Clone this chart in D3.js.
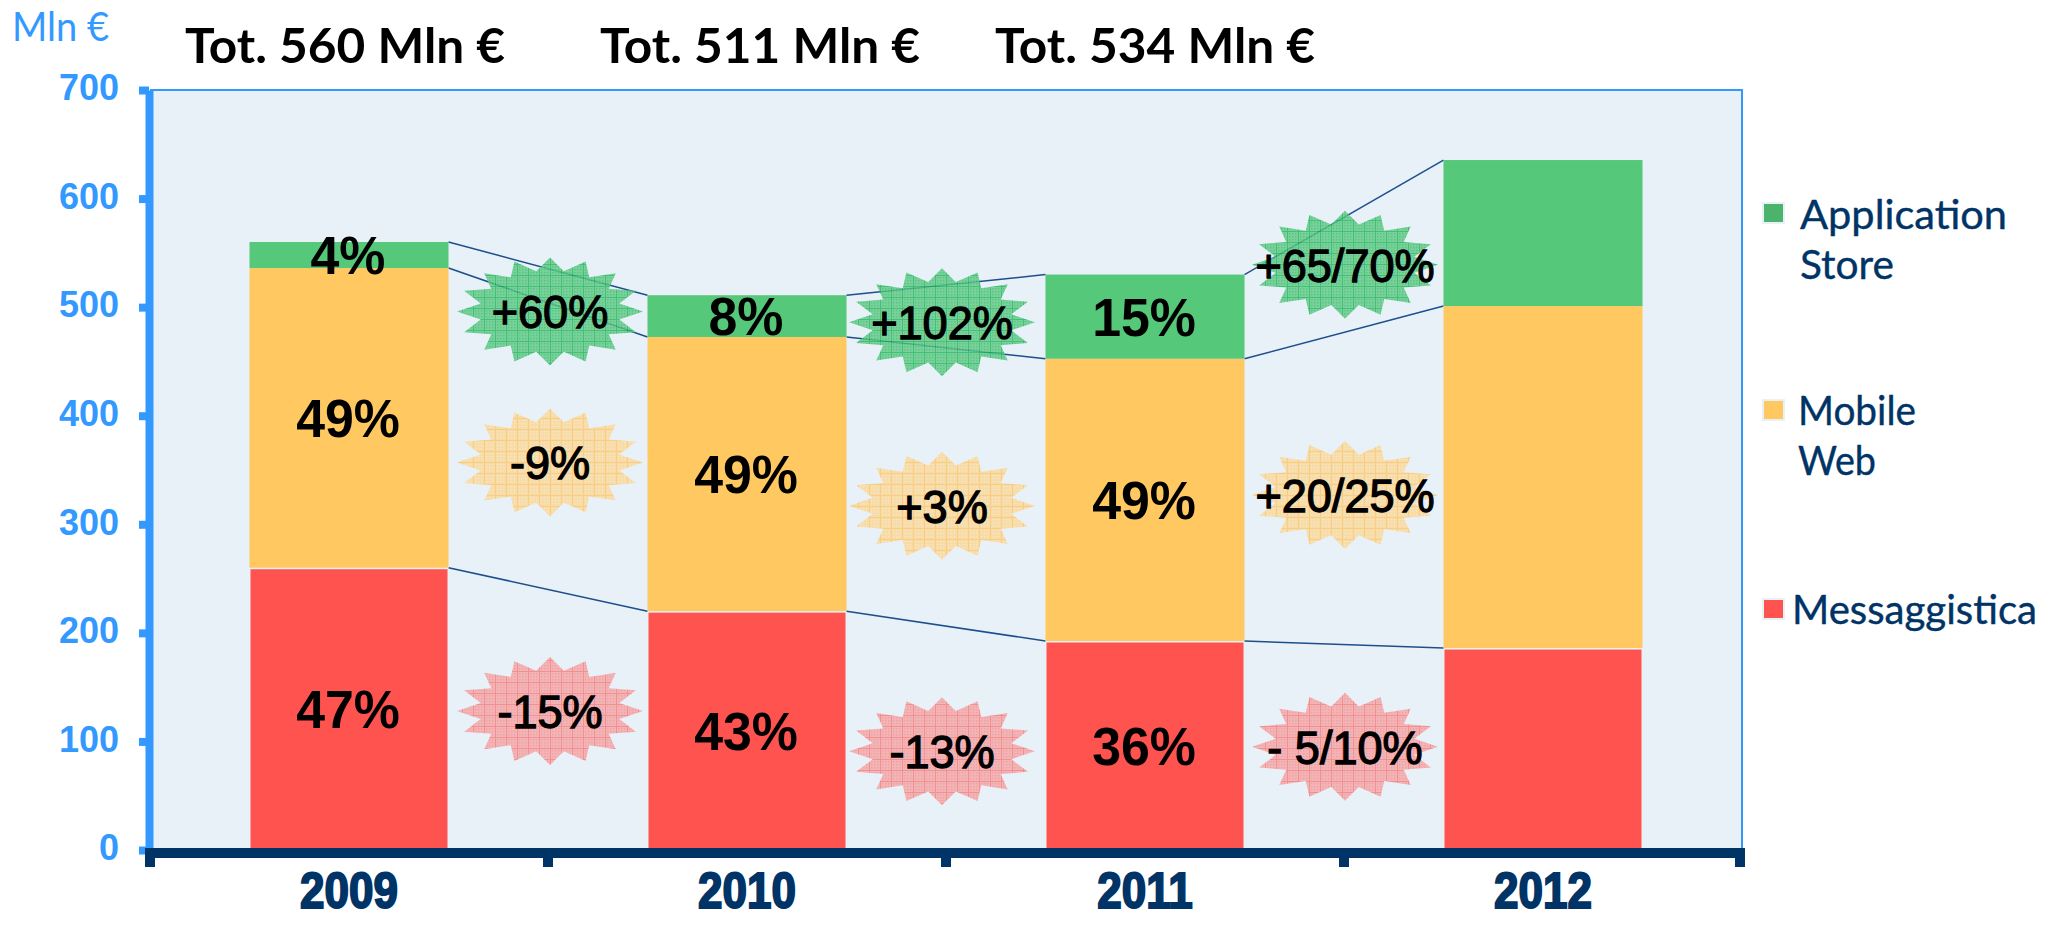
<!DOCTYPE html>
<html>

<head>
    <meta charset="utf-8">
    <style>
        html, body {
            margin: 0;
            background-color: #ffffff;
        }

        svg {
            display: block;
        }

        .humanist {
            font-family: Lato, "Noto Sans", sans-serif;
        }

        .arial {
            font-family: "Liberation Sans", Arial, sans-serif;
        }
    </style>
</head>

<body>
    <div id="visualization"></div>

    <script src="https://d3js.org/d3.v7.min.js"></script>
    <script>
        // data
        var years = ["2009", "2010", "2011", "2012"];
        var seriesNames = ["Messaggistica", "Mobile Web", "Application Store"];
        var messaggistica = [260, 220, 192.5, 186];
        var mobileWeb = [276, 252.5, 260, 315];
        var applicationStore = [24, 38.5, 77.5, 134.5];
        var messaggisticaShare = ["47%", "43%", "36%", ""];
        var mobileWebShare = ["49%", "49%", "49%", ""];
        var applicationStoreShare = ["4%", "8%", "15%", ""];
        var messaggisticaGrowth = ["-15%", "-13%", "- 5/10%"];
        var mobileWebGrowth = ["-9%", "+3%", "+20/25%"];
        var applicationStoreGrowth = ["+60%", "+102%", "+65/70%"];
        var messaggisticaBurstLevel = [128, 91, 95];
        var mobileWebBurstLevel = [357, 317, 327];
        var applicationStoreBurstLevel = [496, 486, 539];
        var totals = ["Tot. 560 Mln €", "Tot. 511 Mln €", "Tot. 534 Mln €"];
        var yTicks = [0, 100, 200, 300, 400, 500, 600, 700];

        var colors = ["#ff5350", "#ffc861", "#55c87a"];
        var legendColors = ["#ff5350", "#ffc861", "#4cb36c"];
        var burstBase = ["#f6a7a8", "#fbd796", "#5ecb84"];
        var burstLine = ["#f77a7a", "#fdc66a", "#1fb45c"];
        var burstDot = ["#f08f90", "#fde3b4", "#3fb86e"];

        var svg = d3.select("#visualization").append("svg")
            .attr("width", 2060)
            .attr("height", 930);

        var plotLeft = 150, plotRight = 1742, plotTop = 90, plotBottom = 850;

        var x = d3.scaleBand().domain(years).range([plotLeft, plotRight]).paddingInner(0.5).paddingOuter(0.25);
        var y = d3.scaleLinear().domain([0, 700]).range([plotBottom, plotTop]);

        // patterns for the bursts
        var defs = svg.append("defs");
        colors.forEach(function (c, i) {
            var p = defs.append("pattern")
                .attr("id", "burst" + i)
                .attr("patternUnits", "userSpaceOnUse")
                .attr("width", 11)
                .attr("height", 11);
            p.append("rect").attr("width", 11).attr("height", 11).attr("fill", burstBase[i]);
            [1, 4, 7].forEach(function (a) {
                [3, 6, 9].forEach(function (b) {
                    p.append("rect").attr("x", a + 1).attr("y", b - 1).attr("width", 1.4).attr("height", 1.4).attr("fill", burstDot[i]);
                });
            });
            p.append("rect").attr("x", 0).attr("y", 0).attr("width", 1).attr("height", 11).attr("fill", burstLine[i]);
            p.append("rect").attr("x", 0).attr("y", 0).attr("width", 11).attr("height", 1).attr("fill", burstLine[i]);
        });

        // plot background
        svg.append("rect")
            .attr("x", plotLeft).attr("y", plotTop)
            .attr("width", plotRight - plotLeft).attr("height", plotBottom - plotTop)
            .attr("fill", "#e8f1f8");
        svg.append("path")
            .attr("d", "M" + plotLeft + "," + plotTop + "H" + plotRight + "V" + plotBottom)
            .attr("fill", "none")
            .attr("stroke", "#3399ff")
            .attr("stroke-width", 2);

        // stack
        var table = years.map(function (d, i) {
            return { year: d, s0: messaggistica[i], s1: mobileWeb[i], s2: applicationStore[i] };
        });
        var stacked = d3.stack().keys(["s0", "s1", "s2"])(table);
        var shares = [messaggisticaShare, mobileWebShare, applicationStoreShare];
        var growths = [messaggisticaGrowth, mobileWebGrowth, applicationStoreGrowth];
        var burstLevels = [messaggisticaBurstLevel, mobileWebBurstLevel, applicationStoreBurstLevel];

        // connector lines between bars
        stacked.forEach(function (layer) {
            d3.pairs(layer).forEach(function (pair) {
                svg.append("line")
                    .attr("x1", x(pair[0].data.year) + x.bandwidth())
                    .attr("x2", x(pair[1].data.year))
                    .attr("y1", y(pair[0][1]))
                    .attr("y2", y(pair[1][1]))
                    .attr("stroke", "#1d4f8c")
                    .attr("stroke-width", 1.5);
            });
        });

        // bars
        stacked.forEach(function (layer, s) {
            svg.append("g").selectAll("rect")
                .data(layer)
                .enter()
                .append("rect")
                .attr("x", d => x(d.data.year) + (s == 0 ? 1 : 0))
                .attr("width", x.bandwidth() - (s == 0 ? 2 : 0))
                .attr("y", d => y(d[1]) + (s == 0 ? 1.5 : 0))
                .attr("height", d => y(d[0]) - y(d[1]) - (s == 0 ? 1.5 : 0))
                .attr("fill", colors[s]);
        });

        // bursts: 16 spikes on an ellipse
        var burstRx = 93, burstRy = 54, burstInner = 0.76;
        var burstShift = [2, -4, 1];
        function burstPath(cx, cy) {
            var pts = [];
            for (var k = 0; k < 32; k++) {
                var a = k * Math.PI / 16;
                var r = k % 2 == 0 ? 1 : burstInner;
                pts.push([cx + burstRx * r * Math.sin(a), cy - burstRy * r * Math.cos(a)]);
            }
            return "M" + pts.join("L") + "Z";
        }

        function squeezed(sel, px, py, sx) {
            return sel.attr("transform", "translate(" + px + "," + py + ") scale(" + sx + ",1)");
        }

        burstLevels.forEach(function (levels, s) {
            levels.forEach(function (level, i) {
                var cx = (x(years[i]) + x.bandwidth() + x(years[i + 1])) / 2 + burstShift[i];
                svg.append("path")
                    .attr("d", burstPath(cx, y(level)))
                    .attr("fill", "url(#burst" + s + ")")
                    .attr("fill-opacity", 0.82);
                squeezed(svg.append("text"), cx, y(level) + 17, 0.98)
                    .attr("class", "arial")
                    .attr("text-anchor", "middle")
                    .attr("font-size", 46)
                    .attr("stroke", "#000")
                    .attr("stroke-width", 1.3)
                    .attr("fill", "#000")
                    .text(growths[s][i]);
            });
        });

        // share labels in the middle of each segment
        stacked.forEach(function (layer, s) {
            layer.forEach(function (d, i) {
                if (!shares[s][i]) return;
                squeezed(svg.append("text"), x(d.data.year) + x.bandwidth() / 2 - 1, y((d[0] + d[1]) / 2) + 19, 0.96)
                    .attr("class", "arial")
                    .attr("text-anchor", "middle")
                    .attr("font-size", 54)
                    .attr("font-weight", "bold")
                    .attr("fill", "#000")
                    .text(shares[s][i]);
            });
        });

        // y axis
        var yAxis = svg.append("g")
            .attr("transform", "translate(149,0)")
            .call(d3.axisLeft(y).tickValues(yTicks).tickSize(10).tickSizeOuter(0).tickPadding(20));
        yAxis.select(".domain").attr("stroke", "#3399ff").attr("stroke-width", 8);
        yAxis.selectAll(".tick line").attr("stroke", "#3399ff").attr("stroke-width", 8);
        yAxis.selectAll(".tick text")
            .attr("class", "arial")
            .attr("font-size", 36)
            .attr("font-weight", "bold")
            .attr("dy", "0.27em")
            .attr("fill", "#3399ff");

        // x axis
        var step = x.step();
        var xAxisY = plotBottom + 3;
        var xAxis = svg.append("g").attr("transform", "translate(0," + xAxisY + ")");
        var boundaries = [0].concat(years.map(function (d, i) { return i + 1; }));
        xAxis.append("rect")
            .attr("x", 145).attr("y", -5)
            .attr("width", plotRight + 3 - 145).attr("height", 10)
            .attr("fill", "#003366");
        xAxis.selectAll("rect.mark")
            .data(boundaries)
            .enter()
            .append("rect")
            .attr("class", "mark")
            .attr("x", d => plotLeft - 5 + d * step - (d == years.length ? 2 : 0))
            .attr("y", 0)
            .attr("width", 10)
            .attr("height", 14)
            .attr("fill", "#003366");

        years.forEach(function (d) {
            squeezed(svg.append("text"), x(d) + x.bandwidth() / 2, 908, 0.88)
                .attr("class", "arial")
                .attr("text-anchor", "middle")
                .attr("font-size", 50)
                .attr("font-weight", "bold")
                .attr("fill", "#003366")
                .attr("stroke", "#003366")
                .attr("stroke-width", 2)
                .text(d);
        });

        // header texts
        svg.append("text")
            .attr("class", "humanist")
            .attr("x", 12).attr("y", 41)
            .attr("font-size", 40)
            .attr("fill", "#3399ff")
            .attr("textLength", 97)
            .attr("lengthAdjust", "spacingAndGlyphs")
            .text("Mln €");

        svg.selectAll("text.total")
            .data(totals)
            .enter()
            .append("text")
            .attr("class", "total humanist")
            .attr("x", (d, i) => [185, 600, 995][i])
            .attr("y", 63)
            .attr("font-size", 47)
            .attr("font-weight", "bold")
            .attr("fill", "#000")
            .attr("textLength", 320)
            .attr("lengthAdjust", "spacingAndGlyphs")
            .text(d => d);

        // legend
        var legendSwatchY = [599, 400, 203];
        var legendTextX = [1792, 1798, 1800];
        var legendBaseline = [624, 425, 229];
        var legendLines = [["Messaggistica"], ["Mobile", "Web"], ["Application", "Store"]];
        var legendWidth = [[245], [118, 78], [207, 94]];

        seriesNames.forEach(function (name, s) {
            var g = svg.append("g");
            g.append("rect")
                .attr("x", 1763).attr("y", legendSwatchY[s])
                .attr("width", 21).attr("height", 20)
                .attr("fill", legendColors[s])
                .attr("stroke", "#e8f1f8")
                .attr("stroke-width", 2);
            legendLines[s].forEach(function (line, l) {
                g.append("text")
                    .attr("class", "humanist")
                    .attr("x", legendTextX[s])
                    .attr("y", legendBaseline[s] + l * 50)
                    .attr("font-size", 41)
                    .attr("fill", "#003366")
                    .attr("stroke", "#003366")
                    .attr("stroke-width", 0.4)
                    .attr("textLength", legendWidth[s][l])
                    .attr("lengthAdjust", "spacingAndGlyphs")
                    .text(line);
            });
        });
    </script>
</body>

</html>
